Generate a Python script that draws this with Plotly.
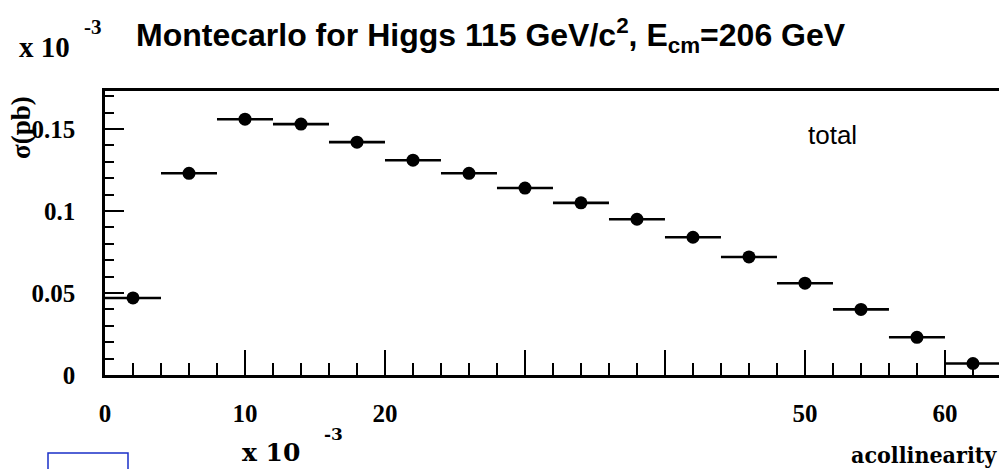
import plotly.graph_objects as go

# ---- data ----
bin_centers = [2, 6, 10, 14, 18, 22, 26, 30, 34, 38, 42, 46, 50, 54, 58, 62]
bin_half_width = [2, 2, 2, 2, 2, 2, 2, 2, 2, 2, 2, 2, 2, 2, 2, 2]
sigma_pb = [0.047, 0.123, 0.156, 0.153, 0.142, 0.131, 0.123, 0.114,
            0.105, 0.095, 0.084, 0.072, 0.056, 0.040, 0.023, 0.007]
sigma_err = [0.003] * 16
x_tickvals = [0, 10, 20, 50, 60]
x_ticktext = ["0", "10", "20", "50", "60"]
x_unlabelled_major = [30, 40]
y_tickvals = [0, 0.05, 0.1, 0.15]
y_ticktext = ["0", "0.05", "0.1", "0.15"]

W, H = 999, 469
L, R, T, B = 105, 0, 91, 94
PW, PH = W - L - R, H - T - B
XR = [0, 63.86]


def px(xp):
    return (xp - L) / PW


def py(yp):
    return (H - B - yp) / PH


fig = go.Figure()
fig.add_trace(go.Scatter(
    x=bin_centers, y=sigma_pb, mode="markers",
    marker=dict(symbol="circle", size=13, color="black"),
    error_x=dict(type="data", array=bin_half_width, color="black",
                 thickness=2.6, width=0),
    error_y=dict(type="data", array=sigma_err, color="black",
                 thickness=1.5, width=0),
    showlegend=False, cliponaxis=False,
))
# invisible trace so the secondary (tick-only) axis is drawn
fig.add_trace(go.Scatter(x=bin_centers, y=sigma_pb, xaxis="x2", mode="markers",
                         marker=dict(opacity=0), hoverinfo="skip",
                         showlegend=False))

tickfont = dict(family="Liberation Serif", size=25, color="black", weight="bold")

fig.update_layout(
    width=W, height=H, autosize=False,
    margin=dict(l=L, r=R, t=T, b=B, pad=0),
    paper_bgcolor="white", plot_bgcolor="white",
    xaxis=dict(range=XR, showgrid=False, zeroline=False,
               showline=True, linecolor="black", linewidth=2.5, mirror=True,
               ticks="inside", ticklen=25, tickwidth=1.8, tickcolor="black",
               tickvals=x_tickvals, ticktext=x_ticktext,
               tickfont=tickfont, ticklabelstandoff=14,
               minor=dict(dtick=2, tick0=0, ticks="inside", ticklen=12,
                          tickwidth=1.8, tickcolor="black", showgrid=False)),
    xaxis2=dict(range=XR, overlaying="x", side="bottom", showgrid=False,
                zeroline=False, showline=False, showticklabels=False,
                ticks="inside", ticklen=25, tickwidth=1.8, tickcolor="black",
                tickvals=x_unlabelled_major),
    yaxis=dict(range=[0, 0.1732], showgrid=False, zeroline=False,
               showline=True, linecolor="black", linewidth=2.5, mirror=False,
               ticks="inside", ticklen=19, tickwidth=1.8, tickcolor="black",
               tickvals=y_tickvals, ticktext=y_ticktext,
               tickfont=tickfont, ticklabelstandoff=22,
               minor=dict(dtick=0.01, tick0=0, ticks="inside", ticklen=9,
                          tickwidth=1.8, tickcolor="black", showgrid=False)),
)

ann = []
# title
ann.append(dict(x=px(134), y=py(36), xref="paper", yref="paper",
                xanchor="left", yanchor="middle", showarrow=False,
                text="<b>Montecarlo for Higgs 115 GeV/c<sup>2</sup>, E<sub>cm</sub>=206 GeV</b>",
                font=dict(family="Liberation Sans", size=32, color="black")))
# top multiplier
ann.append(dict(x=px(72), y=py(47), xref="paper", yref="paper",
                xanchor="right", yanchor="middle", showarrow=False,
                text="x 10", font=dict(family="Liberation Serif", size=29,
                                       color="black", weight="bold")))
ann.append(dict(x=px(82), y=py(27), xref="paper", yref="paper",
                xanchor="left", yanchor="middle", showarrow=False,
                text="-3", font=dict(family="Liberation Serif", size=21,
                                     color="black", weight="bold")))
# bottom multiplier
ann.append(dict(x=px(302), y=py(452), xref="paper", yref="paper",
                xanchor="right", yanchor="middle", showarrow=False,
                text="x 10", font=dict(family="DejaVu Serif", size=25,
                                       color="black", weight="bold")))
ann.append(dict(x=px(322), y=py(434), xref="paper", yref="paper",
                xanchor="left", yanchor="middle", showarrow=False,
                text="-3", font=dict(family="DejaVu Serif", size=17,
                                     color="black", weight="bold")))
# y title
ann.append(dict(x=px(21), y=py(128), xref="paper", yref="paper",
                xanchor="center", yanchor="middle", showarrow=False,
                textangle=-90, text="σ(pb)",
                font=dict(family="Liberation Serif", size=27, color="black",
                          weight="bold")))
# x title
ann.append(dict(x=px(999), y=py(454), xref="paper", yref="paper",
                xanchor="right", yanchor="middle", showarrow=False,
                text="acollinearity",
                font=dict(family="DejaVu Serif Condensed", size=23,
                          color="black", weight="bold")))
# "total"
ann.append(dict(x=px(832), y=py(135), xref="paper", yref="paper",
                xanchor="center", yanchor="middle", showarrow=False,
                text="total",
                font=dict(family="Liberation Sans", size=26, color="black")))
fig.update_layout(annotations=ann)

# blue box at bottom-left
fig.add_shape(type="rect", xref="paper", yref="paper",
              x0=px(48), x1=px(128), y0=py(472), y1=py(453),
              line=dict(color="#1a2fc8", width=1.5), fillcolor="rgba(0,0,0,0)")

fig.write_html("out.html")
